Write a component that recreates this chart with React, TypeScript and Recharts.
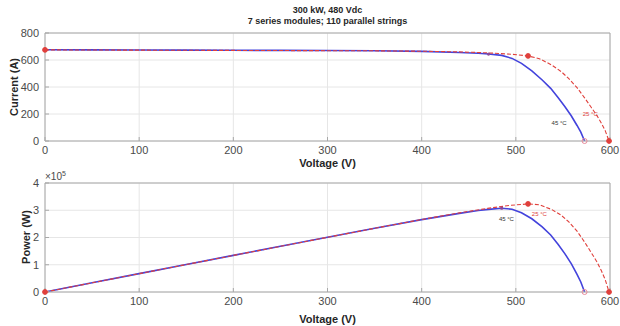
import {
  LineChart,
  Line,
  XAxis,
  YAxis,
  CartesianGrid,
  ReferenceLine,
  ReferenceDot,
} from "recharts";

// 25 °C curve (red)
const voltage25 = [0, 50, 100, 150, 200, 250, 300, 350, 400, 440, 470, 495, 513, 525, 538, 548, 556, 565, 573, 580, 586, 591, 595, 599];
const current25 = [675, 674, 673, 672, 671, 670, 669, 668, 665, 660, 653, 643, 630, 610, 563, 515, 464, 395, 320, 250, 190, 130, 75, 0];
const power25 = [0, 33700, 67300, 100800, 134200, 167500, 200700, 233800, 266000, 290400, 306900, 318300, 323200, 320250, 302900, 282200, 258000, 223200, 183400, 145000, 111300, 76800, 44600, 0];

// 45 °C curve (blue)
const voltage45 = [0, 50, 100, 150, 200, 250, 300, 350, 400, 440, 460, 471, 485, 496, 506, 517, 528, 537, 545, 552, 559, 565, 569, 573];
const current45 = [676, 675, 674, 673, 672, 671, 670, 668, 664, 656, 650, 644, 634, 612, 575, 520, 452, 390, 320, 255, 185, 115, 65, 0];
const power45 = [0, 33750, 67400, 100950, 134400, 167750, 201000, 233800, 265600, 288600, 299000, 303300, 307500, 303600, 290950, 268800, 238650, 209400, 174400, 140800, 103400, 65000, 36800, 0];

const voltageTicks = [0, 100, 200, 300, 400, 500, 600];
const currentTicks = [0, 200, 400, 600, 800];
const powerTicks = [0, 100000, 200000, 300000, 400000];

// voltages where markers are drawn
const markers25 = [0, 513, 599];
const markersIV45 = [471];
const markersPV45 = [485];
const openMarker45 = 573;

const iv25 = voltage25.map((v, i) => ({ v, y: current25[i] }));
const iv45 = voltage45.map((v, i) => ({ v, y: current45[i] }));
const pv25 = voltage25.map((v, i) => ({ v, y: power25[i] }));
const pv45 = voltage45.map((v, i) => ({ v, y: power45[i] }));

const RED = "#e0403c";
const BLUE = "#4343dc";
const FONT = "'Liberation Sans', Arial, sans-serif";
const tickStyle = { fontSize: 11, fill: "#4a4a4a", fontFamily: FONT };
const boxColor = "#a8a8a8";

function redDot(props: any) {
  const { cx, cy, payload, index } = props;
  if (!markers25.includes(payload.v)) return <g key={index} />;
  return <circle key={index} cx={cx} cy={cy} r={2.4} fill={RED} stroke={RED} />;
}

function makeBlueDot(filled: number[]) {
  return (props: any) => {
    const { cx, cy, payload, index } = props;
    if (filled.includes(payload.v))
      return <circle key={index} cx={cx} cy={cy} r={1.6} fill="#8a4a9a" stroke="none" />;
    if (payload.v === openMarker45)
      return <circle key={index} cx={cx} cy={cy} r={2.5} fill="none" stroke="#e88a9a" strokeWidth={1} />;
    return <g key={index} />;
  };
}

function Note({ text, color }: { text: string; color: string }) {
  return (props: any) => {
    const { viewBox } = props;
    return (
      <text x={viewBox.x} y={viewBox.y} fontSize={6} fill={color} fontFamily={FONT} textAnchor="middle" dominantBaseline="middle">
        {text}
      </text>
    );
  };
}

function Panel({
  d25,
  d45,
  yTicks,
  yMax,
  yFmt,
  blueDots,
  notes,
  height,
  top,
  xAxisHeight,
}: any) {
  return (
    <LineChart
      width={620}
      height={height}
      margin={{ top, right: 10, left: 0, bottom: 0 }}
    >
      <CartesianGrid stroke="#e6e6e6" />
      <XAxis
        dataKey="v"
        type="number"
        domain={[0, 600]}
        ticks={voltageTicks}
        tick={tickStyle}
        tickSize={-4}
        tickMargin={9}
        stroke={boxColor}
        height={xAxisHeight}
        allowDuplicatedCategory={false}
        label={{
          value: "Voltage (V)",
          position: "insideBottom",
          offset: 3,
          style: { fontSize: 11, fontWeight: "bold", fill: "#262626", fontFamily: FONT },
        }}
      />
      <YAxis
        type="number"
        domain={[0, yMax]}
        ticks={yTicks}
        tick={tickStyle}
        tickFormatter={yFmt}
        tickSize={-4}
        tickMargin={10}
        stroke={boxColor}
        width={45}
      />
      <ReferenceLine y={yMax} stroke={boxColor} />
      <ReferenceLine x={600} stroke={boxColor} />
      <Line
        data={d45}
        dataKey="y"
        type="linear"
        stroke={BLUE}
        strokeWidth={1.6}
        dot={blueDots}
        activeDot={false}
        isAnimationActive={false}
      />
      <Line
        data={d25}
        dataKey="y"
        type="linear"
        stroke={RED}
        strokeWidth={1.1}
        strokeDasharray="4 2"
        dot={redDot}
        activeDot={false}
        isAnimationActive={false}
      />
      {notes.map((n: any, i: number) => (
        <ReferenceDot
          key={i}
          x={n.x}
          y={n.y}
          r={0}
          fill="none"
          stroke="none"
          label={Note({ text: n.text, color: n.color })}
        />
      ))}
    </LineChart>
  );
}

export default function App() {
  return (
    <div
      style={{
        position: "absolute",
        left: 0,
        top: 0,
        width: 620,
        height: 326,
        background: "#fff",
        fontFamily: FONT,
        overflow: "hidden",
      }}
    >
      <div
        style={{
          position: "absolute",
          left: 45,
          width: 565,
          top: 5,
          textAlign: "center",
          fontSize: 9,
          fontWeight: "bold",
          lineHeight: "11px",
          color: "#262626",
        }}
      >
        <div>300 kW, 480 Vdc</div>
        <div>7 series modules; 110 parallel strings</div>
      </div>
      <div style={{ position: "absolute", left: 0, top: 0 }}>
        <Panel
          d25={iv25}
          d45={iv45}
          yTicks={currentTicks}
          yMax={800}
          yFmt={(v: number) => String(v)}
          blueDots={makeBlueDot(markersIV45)}
          notes={[
            { x: 546, y: 133, text: "45 °C", color: "#333" },
            { x: 579, y: 200, text: "25 °C", color: RED },
          ]}
          height={170}
          top={33}
          xAxisHeight={29}
        />
      </div>
      <div style={{ position: "absolute", left: 0, top: 170 }}>
        <Panel
          d25={pv25}
          d45={pv45}
          yTicks={powerTicks}
          yMax={400000}
          yFmt={(v: number) => String(v / 100000)}
          blueDots={makeBlueDot(markersPV45)}
          notes={[
            { x: 490, y: 268000, text: "45 °C", color: "#333" },
            { x: 525, y: 283000, text: "25 °C", color: RED },
          ]}
          height={156}
          top={13}
          xAxisHeight={34}
        />
      </div>
      <div
        style={{
          position: "absolute",
          left: 14,
          top: 87,
          transform: "translate(-50%, -50%) rotate(-90deg)",
          fontSize: 11,
          fontWeight: "bold",
          color: "#262626",
          whiteSpace: "nowrap",
        }}
      >
        Current (A)
      </div>
      <div
        style={{
          position: "absolute",
          left: 26,
          top: 237,
          transform: "translate(-50%, -50%) rotate(-90deg)",
          fontSize: 11,
          fontWeight: "bold",
          color: "#262626",
          whiteSpace: "nowrap",
        }}
      >
        Power (W)
      </div>
      <div
        style={{
          position: "absolute",
          left: 45,
          top: 170,
          fontSize: 10,
          color: "#4a4a4a",
          whiteSpace: "nowrap",
        }}
      >
        ×10<sup style={{ fontSize: 7 }}>5</sup>
      </div>
    </div>
  );
}
